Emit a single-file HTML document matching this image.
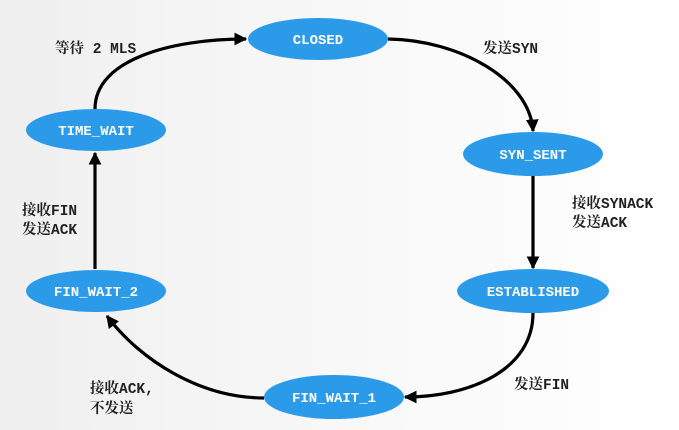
<!DOCTYPE html>
<html><head><meta charset="utf-8"><style>
html,body{margin:0;padding:0;width:679px;height:430px;overflow:hidden}
body{background:linear-gradient(90deg,#efefef 0%,#f8f8f8 50%,#ffffff 100%)}
svg text{font-family:"Liberation Mono","Noto Serif CJK SC",monospace;font-weight:bold}
</style></head><body>
<svg width="679" height="430" viewBox="0 0 679 430" xmlns="http://www.w3.org/2000/svg">
<defs>
<marker id="a" viewBox="0 0 10 10" refX="9" refY="5" markerWidth="4" markerHeight="4" orient="auto" markerUnits="strokeWidth">
<path d="M0,0 L10,5 L0,10 z" fill="#000"/></marker>
</defs>
<g fill="none" stroke="#000" stroke-width="3.2" marker-end="url(#a)">
<path d="M95,109 C95,60 170,39 246,39"/>
<path d="M388,39 C460,40 530,80 533,131"/>
<path d="M533,176 L533,268"/>
<path d="M533,313 C533,370 470,397 405,397"/>
<path d="M264,398 C200,398 140,360 107,316"/>
<path d="M95,269 L95,153"/>
</g>
<g fill="#2b9be9">
<ellipse cx="318" cy="39" rx="70" ry="21"/>
<ellipse cx="96" cy="130" rx="70" ry="21"/>
<ellipse cx="533" cy="154" rx="70" ry="22"/>
<ellipse cx="533" cy="291" rx="76" ry="22"/>
<ellipse cx="96" cy="291" rx="70" ry="21"/>
<ellipse cx="334" cy="397" rx="70" ry="22"/>
</g>
<g fill="#fff" font-size="14" text-anchor="middle">
<text x="318" y="44">CLOSED</text>
<text x="96" y="135">TIME_WAIT</text>
<text x="533" y="159">SYN_SENT</text>
<text x="533" y="296">ESTABLISHED</text>
<text x="96" y="296">FIN_WAIT_2</text>
<text x="334" y="402">FIN_WAIT_1</text>
</g>
<g fill="#222" font-size="14.5">
<text x="55" y="53">等待 2 MLS</text>
<text x="483" y="53">发送SYN</text>
<text x="572" y="208">接收SYNACK</text>
<text x="572" y="227">发送ACK</text>
<text x="514" y="389">发送FIN</text>
<text x="90" y="393">接收ACK,</text>
<text x="90" y="413">不发送</text>
<text x="22" y="215">接收FIN</text>
<text x="22" y="234">发送ACK</text>
</g>
</svg>
</body></html>
